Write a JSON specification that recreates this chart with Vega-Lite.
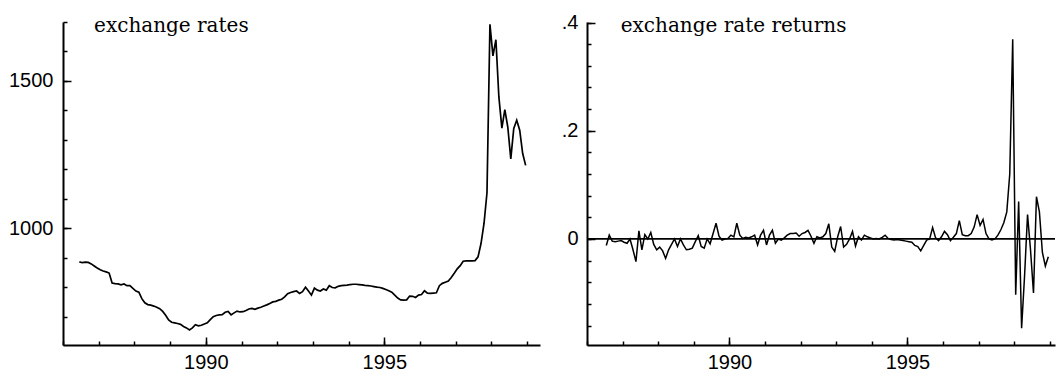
{
  "$schema": "https://vega.github.io/schema/vega-lite/v6.json",
  "background": "white",
  "padding": {"left": 8, "top": 12, "right": 0, "bottom": 7},
  "bounds": "flush",
  "spacing": 47,
  "config": {
    "view": {"stroke": null},
    "axis": {
      "grid": false,
      "title": null,
      "domainColor": "black",
      "domainWidth": 2,
      "tickColor": "black",
      "tickWidth": 1.5,
      "labelFont": "Liberation Sans",
      "labelFontSize": 20,
      "labelColor": "black",
      "labelFlush": false,
      "labelOverlap": false,
      "labelBound": false
    }
  },
  "datasets": {
    "levels": [
      {"t": 1986.458, "rate": 887}, {"t": 1986.542, "rate": 884}, {"t": 1986.625, "rate": 886}, {"t": 1986.708, "rate": 885}, {"t": 1986.792, "rate": 880}, {"t": 1986.875, "rate": 873}, {"t": 1986.958, "rate": 866},
      {"t": 1987.042, "rate": 860}, {"t": 1987.125, "rate": 856}, {"t": 1987.208, "rate": 853}, {"t": 1987.292, "rate": 849}, {"t": 1987.375, "rate": 815}, {"t": 1987.458, "rate": 813}, {"t": 1987.542, "rate": 812}, {"t": 1987.625, "rate": 809}, {"t": 1987.708, "rate": 812}, {"t": 1987.792, "rate": 806}, {"t": 1987.875, "rate": 806}, {"t": 1987.958, "rate": 797},
      {"t": 1988.042, "rate": 788}, {"t": 1988.125, "rate": 784}, {"t": 1988.208, "rate": 762}, {"t": 1988.292, "rate": 748}, {"t": 1988.375, "rate": 742}, {"t": 1988.458, "rate": 740}, {"t": 1988.542, "rate": 737}, {"t": 1988.625, "rate": 733}, {"t": 1988.708, "rate": 728}, {"t": 1988.792, "rate": 719}, {"t": 1988.875, "rate": 706}, {"t": 1988.958, "rate": 690},
      {"t": 1989.042, "rate": 682}, {"t": 1989.125, "rate": 680}, {"t": 1989.208, "rate": 678}, {"t": 1989.292, "rate": 675}, {"t": 1989.375, "rate": 668}, {"t": 1989.458, "rate": 663}, {"t": 1989.542, "rate": 656}, {"t": 1989.625, "rate": 663}, {"t": 1989.708, "rate": 674}, {"t": 1989.792, "rate": 670}, {"t": 1989.875, "rate": 672}, {"t": 1989.958, "rate": 676},
      {"t": 1990.042, "rate": 680}, {"t": 1990.125, "rate": 691}, {"t": 1990.208, "rate": 701}, {"t": 1990.292, "rate": 705}, {"t": 1990.375, "rate": 707}, {"t": 1990.458, "rate": 708}, {"t": 1990.542, "rate": 716}, {"t": 1990.625, "rate": 719}, {"t": 1990.708, "rate": 707}, {"t": 1990.792, "rate": 714}, {"t": 1990.875, "rate": 720}, {"t": 1990.958, "rate": 717},
      {"t": 1991.042, "rate": 718}, {"t": 1991.125, "rate": 722}, {"t": 1991.208, "rate": 727}, {"t": 1991.292, "rate": 729}, {"t": 1991.375, "rate": 726}, {"t": 1991.458, "rate": 730}, {"t": 1991.542, "rate": 733}, {"t": 1991.625, "rate": 737}, {"t": 1991.708, "rate": 741}, {"t": 1991.792, "rate": 746}, {"t": 1991.875, "rate": 751}, {"t": 1991.958, "rate": 753},
      {"t": 1992.042, "rate": 757}, {"t": 1992.125, "rate": 760}, {"t": 1992.208, "rate": 768}, {"t": 1992.292, "rate": 779}, {"t": 1992.375, "rate": 783}, {"t": 1992.458, "rate": 786}, {"t": 1992.542, "rate": 788}, {"t": 1992.625, "rate": 780}, {"t": 1992.708, "rate": 786}, {"t": 1992.792, "rate": 801}, {"t": 1992.875, "rate": 788}, {"t": 1992.958, "rate": 774},
      {"t": 1993.042, "rate": 798}, {"t": 1993.125, "rate": 791}, {"t": 1993.208, "rate": 788}, {"t": 1993.292, "rate": 795}, {"t": 1993.375, "rate": 791}, {"t": 1993.458, "rate": 806}, {"t": 1993.542, "rate": 800}, {"t": 1993.625, "rate": 799}, {"t": 1993.708, "rate": 804}, {"t": 1993.792, "rate": 806}, {"t": 1993.875, "rate": 807}, {"t": 1993.958, "rate": 808},
      {"t": 1994.042, "rate": 810}, {"t": 1994.125, "rate": 811}, {"t": 1994.208, "rate": 811}, {"t": 1994.292, "rate": 810}, {"t": 1994.375, "rate": 809}, {"t": 1994.458, "rate": 807}, {"t": 1994.542, "rate": 806}, {"t": 1994.625, "rate": 805}, {"t": 1994.708, "rate": 803}, {"t": 1994.792, "rate": 801}, {"t": 1994.875, "rate": 800}, {"t": 1994.958, "rate": 797},
      {"t": 1995.042, "rate": 793}, {"t": 1995.125, "rate": 789}, {"t": 1995.208, "rate": 784}, {"t": 1995.292, "rate": 774}, {"t": 1995.375, "rate": 764}, {"t": 1995.458, "rate": 758}, {"t": 1995.542, "rate": 757}, {"t": 1995.625, "rate": 758}, {"t": 1995.708, "rate": 771}, {"t": 1995.792, "rate": 770}, {"t": 1995.875, "rate": 766}, {"t": 1995.958, "rate": 774},
      {"t": 1996.042, "rate": 776}, {"t": 1996.125, "rate": 789}, {"t": 1996.208, "rate": 781}, {"t": 1996.292, "rate": 780}, {"t": 1996.375, "rate": 781}, {"t": 1996.458, "rate": 782}, {"t": 1996.542, "rate": 806}, {"t": 1996.625, "rate": 814}, {"t": 1996.708, "rate": 818}, {"t": 1996.792, "rate": 822}, {"t": 1996.875, "rate": 834}, {"t": 1996.958, "rate": 848},
      {"t": 1997.042, "rate": 863}, {"t": 1997.125, "rate": 874}, {"t": 1997.208, "rate": 889}, {"t": 1997.292, "rate": 890}, {"t": 1997.375, "rate": 890}, {"t": 1997.458, "rate": 890}, {"t": 1997.542, "rate": 891}, {"t": 1997.625, "rate": 904}, {"t": 1997.708, "rate": 949}, {"t": 1997.792, "rate": 1017}, {"t": 1997.875, "rate": 1121}, {"t": 1997.958, "rate": 1692},
      {"t": 1998.042, "rate": 1585}, {"t": 1998.125, "rate": 1640}, {"t": 1998.208, "rate": 1446}, {"t": 1998.292, "rate": 1340}, {"t": 1998.375, "rate": 1403}, {"t": 1998.458, "rate": 1344}, {"t": 1998.542, "rate": 1236}, {"t": 1998.625, "rate": 1339}, {"t": 1998.708, "rate": 1367}, {"t": 1998.792, "rate": 1333}, {"t": 1998.875, "rate": 1254}, {"t": 1998.958, "rate": 1214}
    ],
    "returns": [
      {"t": 1986.542, "ret": -0.012}, {"t": 1986.625, "ret": 0.007}, {"t": 1986.708, "ret": -0.004}, {"t": 1986.792, "ret": -0.005}, {"t": 1986.875, "ret": -0.004}, {"t": 1986.958, "ret": -0.003},
      {"t": 1987.042, "ret": -0.006}, {"t": 1987.125, "ret": -0.008}, {"t": 1987.208, "ret": 0.0}, {"t": 1987.292, "ret": -0.02}, {"t": 1987.375, "ret": -0.042}, {"t": 1987.458, "ret": 0.015}, {"t": 1987.542, "ret": -0.02}, {"t": 1987.625, "ret": 0.008}, {"t": 1987.708, "ret": 0.0}, {"t": 1987.792, "ret": 0.012}, {"t": 1987.875, "ret": -0.01}, {"t": 1987.958, "ret": -0.02},
      {"t": 1988.042, "ret": -0.015}, {"t": 1988.125, "ret": -0.022}, {"t": 1988.208, "ret": -0.036}, {"t": 1988.292, "ret": -0.02}, {"t": 1988.375, "ret": -0.01}, {"t": 1988.458, "ret": 0.0}, {"t": 1988.542, "ret": -0.014}, {"t": 1988.625, "ret": 0.0}, {"t": 1988.708, "ret": -0.011}, {"t": 1988.792, "ret": -0.02}, {"t": 1988.875, "ret": -0.019}, {"t": 1988.958, "ret": -0.017},
      {"t": 1989.042, "ret": -0.005}, {"t": 1989.125, "ret": 0.006}, {"t": 1989.208, "ret": -0.014}, {"t": 1989.292, "ret": -0.017}, {"t": 1989.375, "ret": 0.0}, {"t": 1989.458, "ret": -0.009}, {"t": 1989.542, "ret": 0.01}, {"t": 1989.625, "ret": 0.029}, {"t": 1989.708, "ret": 0.005}, {"t": 1989.792, "ret": -0.002}, {"t": 1989.875, "ret": 0.0}, {"t": 1989.958, "ret": 0.001},
      {"t": 1990.042, "ret": 0.007}, {"t": 1990.125, "ret": 0.004}, {"t": 1990.208, "ret": 0.029}, {"t": 1990.292, "ret": 0.007}, {"t": 1990.375, "ret": 0.001}, {"t": 1990.458, "ret": 0.003}, {"t": 1990.542, "ret": 0.002}, {"t": 1990.625, "ret": 0.004}, {"t": 1990.708, "ret": 0.007}, {"t": 1990.792, "ret": -0.011}, {"t": 1990.875, "ret": 0.007}, {"t": 1990.958, "ret": 0.016},
      {"t": 1991.042, "ret": -0.011}, {"t": 1991.125, "ret": 0.007}, {"t": 1991.208, "ret": 0.016}, {"t": 1991.292, "ret": -0.008}, {"t": 1991.375, "ret": 0.0}, {"t": 1991.458, "ret": -0.002}, {"t": 1991.542, "ret": 0.002}, {"t": 1991.625, "ret": 0.007}, {"t": 1991.708, "ret": 0.01}, {"t": 1991.792, "ret": 0.01}, {"t": 1991.875, "ret": 0.011}, {"t": 1991.958, "ret": 0.005},
      {"t": 1992.042, "ret": 0.01}, {"t": 1992.125, "ret": 0.012}, {"t": 1992.208, "ret": 0.016}, {"t": 1992.292, "ret": 0.005}, {"t": 1992.375, "ret": -0.008}, {"t": 1992.458, "ret": 0.004}, {"t": 1992.542, "ret": 0.002}, {"t": 1992.625, "ret": 0.004}, {"t": 1992.708, "ret": 0.01}, {"t": 1992.792, "ret": 0.028}, {"t": 1992.875, "ret": -0.015}, {"t": 1992.958, "ret": -0.023},
      {"t": 1993.042, "ret": 0.004}, {"t": 1993.125, "ret": 0.023}, {"t": 1993.208, "ret": -0.015}, {"t": 1993.292, "ret": -0.01}, {"t": 1993.375, "ret": 0.0}, {"t": 1993.458, "ret": 0.014}, {"t": 1993.542, "ret": -0.013}, {"t": 1993.625, "ret": 0.004}, {"t": 1993.708, "ret": -0.002}, {"t": 1993.792, "ret": 0.007}, {"t": 1993.875, "ret": 0.004}, {"t": 1993.958, "ret": 0.002},
      {"t": 1994.042, "ret": 0.0}, {"t": 1994.125, "ret": 0.001}, {"t": 1994.208, "ret": 0.0}, {"t": 1994.292, "ret": 0.003}, {"t": 1994.375, "ret": 0.007}, {"t": 1994.458, "ret": 0.001}, {"t": 1994.542, "ret": -0.001}, {"t": 1994.625, "ret": -0.002}, {"t": 1994.708, "ret": -0.001}, {"t": 1994.792, "ret": -0.002}, {"t": 1994.875, "ret": -0.003}, {"t": 1994.958, "ret": -0.004},
      {"t": 1995.042, "ret": -0.005}, {"t": 1995.125, "ret": -0.006}, {"t": 1995.208, "ret": -0.012}, {"t": 1995.292, "ret": -0.014}, {"t": 1995.375, "ret": -0.022}, {"t": 1995.458, "ret": -0.012}, {"t": 1995.542, "ret": -0.002}, {"t": 1995.625, "ret": 0.0}, {"t": 1995.708, "ret": 0.021}, {"t": 1995.792, "ret": 0.002}, {"t": 1995.875, "ret": -0.003}, {"t": 1995.958, "ret": 0.004},
      {"t": 1996.042, "ret": 0.014}, {"t": 1996.125, "ret": 0.008}, {"t": 1996.208, "ret": -0.003}, {"t": 1996.292, "ret": 0.003}, {"t": 1996.375, "ret": 0.01}, {"t": 1996.458, "ret": 0.034}, {"t": 1996.542, "ret": 0.008}, {"t": 1996.625, "ret": 0.006}, {"t": 1996.708, "ret": 0.006}, {"t": 1996.792, "ret": 0.01}, {"t": 1996.875, "ret": 0.022}, {"t": 1996.958, "ret": 0.045},
      {"t": 1997.042, "ret": 0.025}, {"t": 1997.125, "ret": 0.036}, {"t": 1997.208, "ret": 0.01}, {"t": 1997.292, "ret": 0.0}, {"t": 1997.375, "ret": -0.002}, {"t": 1997.458, "ret": 0.0}, {"t": 1997.542, "ret": 0.007}, {"t": 1997.625, "ret": 0.017}, {"t": 1997.708, "ret": 0.03}, {"t": 1997.792, "ret": 0.05}, {"t": 1997.875, "ret": 0.12}, {"t": 1997.958, "ret": 0.369},
      {"t": 1998.042, "ret": -0.103}, {"t": 1998.125, "ret": 0.069}, {"t": 1998.208, "ret": -0.165}, {"t": 1998.292, "ret": -0.067}, {"t": 1998.375, "ret": 0.045}, {"t": 1998.458, "ret": -0.02}, {"t": 1998.542, "ret": -0.1}, {"t": 1998.625, "ret": 0.078}, {"t": 1998.708, "ret": 0.05}, {"t": 1998.792, "ret": -0.025}, {"t": 1998.875, "ret": -0.05}, {"t": 1998.958, "ret": -0.033}
    ]
  },
  "hconcat": [
    {
      "width": 477,
      "height": 323,
      "resolve": {"axis": {"x": "independent", "y": "independent"}},
      "layer": [
        {
          "data": {"name": "levels"},
          "mark": {"type": "line", "color": "black", "strokeWidth": 1.7},
          "encoding": {
            "x": {
              "field": "t",
              "type": "quantitative",
              "scale": {"domain": [1986, 1999.36], "nice": false, "zero": false},
              "axis": {"orient": "bottom", "values": [1990, 1995], "format": "d", "tickSize": -8, "labelPadding": 15}
            },
            "y": {
              "field": "rate",
              "type": "quantitative",
              "scale": {"domain": [605, 1700], "nice": false, "zero": false},
              "axis": {"orient": "left", "values": [1000, 1500], "format": "d", "tickSize": -8, "labelPadding": 18}
            }
          }
        },
        {
          "data": {"values": [{"label": "exchange rates"}]},
          "mark": {"type": "text", "font": "DejaVu Serif", "fontSize": 20, "color": "black", "align": "left", "baseline": "alphabetic"},
          "encoding": {
            "x": {
              "datum": 1986.87,
              "type": "quantitative",
              "axis": {"orient": "bottom", "values": [1986, 1987, 1988, 1989, 1990, 1991, 1992, 1993, 1994, 1995, 1996, 1997, 1998, 1999], "labels": false, "domain": false, "tickSize": -4}
            },
            "y": {
              "datum": 1666,
              "type": "quantitative",
              "axis": {"orient": "left", "values": [700, 800, 900, 1000, 1100, 1200, 1300, 1400, 1500, 1600, 1700], "labels": false, "domain": false, "tickSize": -4}
            },
            "text": {"field": "label"}
          }
        }
      ]
    },
    {
      "width": 468,
      "height": 323,
      "resolve": {"axis": {"x": "independent", "y": "independent"}},
      "layer": [
        {
          "data": {"values": [{}]},
          "mark": {"type": "rule", "color": "black", "strokeWidth": 1.7},
          "encoding": {"y": {"datum": 0, "type": "quantitative", "axis": null}}
        },
        {
          "data": {"name": "returns"},
          "mark": {"type": "line", "color": "black", "strokeWidth": 1.5},
          "encoding": {
            "x": {
              "field": "t",
              "type": "quantitative",
              "scale": {"domain": [1986, 1999.146], "nice": false, "zero": false},
              "axis": {"orient": "bottom", "values": [1990, 1995], "format": "d", "tickSize": -8, "labelPadding": 15}
            },
            "y": {
              "field": "ret",
              "type": "quantitative",
              "scale": {"domain": [-0.196, 0.401], "nice": false, "zero": false},
              "axis": {
                "orient": "left",
                "values": [0, 0.2, 0.4],
                "labelExpr": "abs(datum.value) < 1e-9 ? '0' : replace(format(datum.value, '.1f'), '0.', '.')",
                "tickSize": -8,
                "labelPadding": 17
              }
            }
          }
        },
        {
          "data": {"values": [{"label": "exchange rate returns"}]},
          "mark": {"type": "text", "font": "DejaVu Serif", "fontSize": 20, "color": "black", "align": "left", "baseline": "alphabetic"},
          "encoding": {
            "x": {
              "datum": 1986.947,
              "type": "quantitative",
              "axis": {"orient": "bottom", "values": [1986, 1987, 1988, 1989, 1990, 1991, 1992, 1993, 1994, 1995, 1996, 1997, 1998, 1999], "labels": false, "domain": false, "tickSize": -4}
            },
            "y": {
              "datum": 0.3825,
              "type": "quantitative",
              "axis": {"orient": "left", "values": [-0.16, -0.12, -0.08, -0.04, 0, 0.04, 0.08, 0.12, 0.16, 0.2, 0.24, 0.28, 0.32, 0.36, 0.4], "labels": false, "domain": false, "tickSize": -4}
            },
            "text": {"field": "label"}
          }
        }
      ]
    }
  ]
}
